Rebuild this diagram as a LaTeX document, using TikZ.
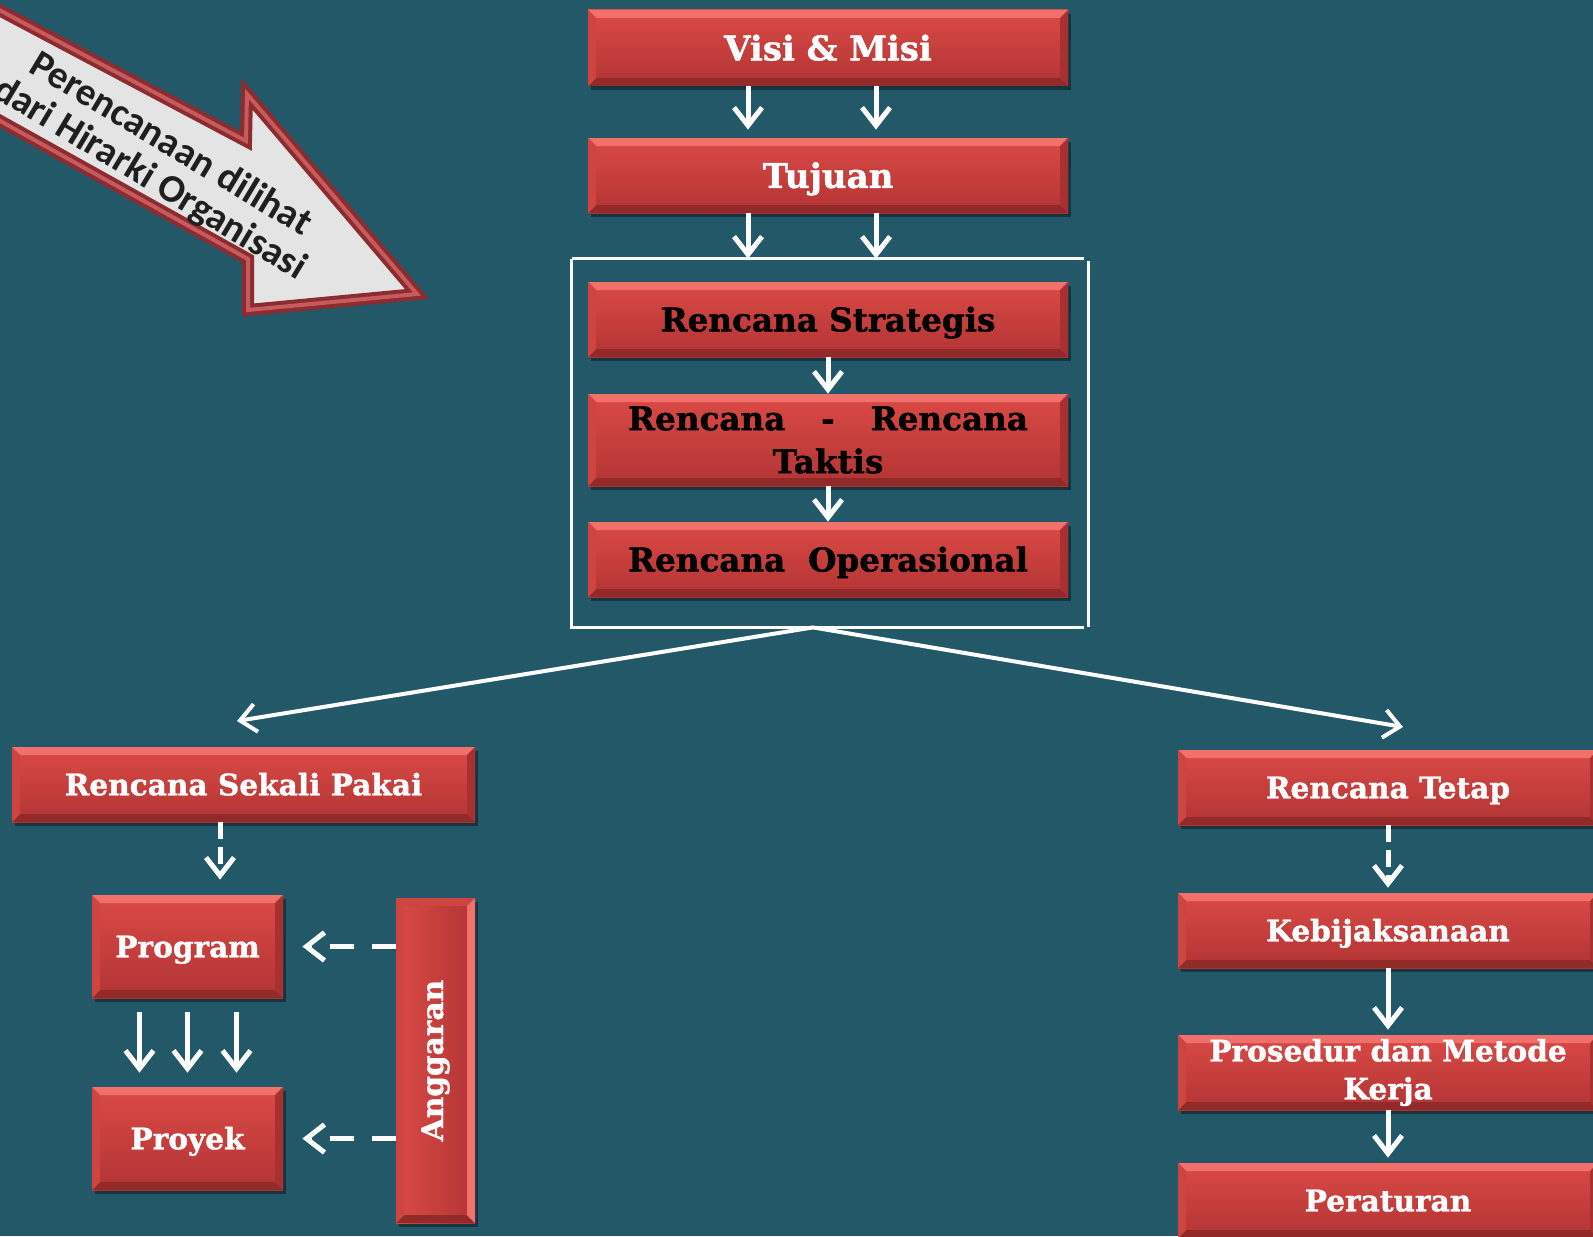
\documentclass[tikz,border=0pt]{standalone}
\usepackage{fontspec}
\usepackage{graphicx}
\usetikzlibrary{arrows.meta,shadows,calc}
\newfontfamily\boxfont{DejaVu Serif}[BoldFeatures={FakeBold=1.2}]
\newfontfamily\arrowfont{Carlito}
\definecolor{bgteal}{RGB}{34,88,104}
\definecolor{redtop}{RGB}{218,74,70}
\definecolor{redbot}{RGB}{178,52,52}
\definecolor{bevlight}{RGB}{242,112,106}
\definecolor{bevdark}{RGB}{146,42,42}
\definecolor{bevside}{RGB}{206,68,64}
\definecolor{bevsidedark}{RGB}{168,48,48}
\definecolor{tubedark}{RGB}{140,44,48}
\definecolor{tubelight}{RGB}{198,90,92}
\definecolor{sheet}{RGB}{228,228,228}

\tikzset{
  % bevelled edge strips: top, bottom, left, right
  bev/.style n args={4}{path picture={
    \coordinate (bbnw) at (path picture bounding box.north west);
    \coordinate (bbne) at (path picture bounding box.north east);
    \coordinate (bbsw) at (path picture bounding box.south west);
    \coordinate (bbse) at (path picture bounding box.south east);
    \fill[#1] (bbnw) -- (bbne) -- ([shift={(-4pt,-4pt)}]bbne) -- ([shift={(4pt,-4pt)}]bbnw) -- cycle;
    \fill[#2] (bbsw) -- (bbse) -- ([shift={(-4pt,4pt)}]bbse) -- ([shift={(4pt,4pt)}]bbsw) -- cycle;
    \fill[#3] (bbnw) -- ([shift={(4pt,-4pt)}]bbnw) -- ([shift={(4pt,4pt)}]bbsw) -- (bbsw) -- cycle;
    \fill[#4] (bbne) -- ([shift={(-4pt,-4pt)}]bbne) -- ([shift={(-4pt,4pt)}]bbse) -- (bbse) -- cycle;
  }},
  boxshadow/.style={drop shadow={shadow xshift=1.5pt, shadow yshift=-1.8pt, opacity=0.4, fill=black}},
  redbox/.style={rectangle, inner sep=0pt, align=center, text=white,
    font=\boxfont\bfseries\fontsize{14.8}{19}\selectfont,
    top color=redtop, bottom color=redbot, boxshadow,
    bev={bevlight}{bevdark}{bevside}{bevsidedark}},
  vbox/.style={rectangle, inner sep=0pt, text=white,
    font=\boxfont\bfseries\fontsize{14.8}{19}\selectfont,
    left color=redtop, right color=redbot, boxshadow,
    bev={bevside}{bevdark}{bevside}{bevlight}},
  % one-line labels: centre the capitals in the box
  capcenter/.style={text height=#1, text depth=0pt},
  bigtext/.style={font=\boxfont\bfseries\fontsize{17}{21}\selectfont},
  darktext/.style={text=black, font=\boxfont\bfseries\fontsize{16.3}{21.5}\selectfont},
  widebox/.style={minimum width=240pt, minimum height=37.5pt},
  sidebox/.style={minimum width=210pt, minimum height=37.5pt},
  flow/.style={draw=white, line width=2.5pt, -{Straight Barb[length=9pt,width=14pt]}},
  vdash/.style={flow, dash pattern=on 8.5pt off 4pt},
  hdash/.style={flow, dash pattern=on 12pt off 9pt},
  diag/.style={draw=white, line width=2pt, -{Straight Barb[length=8pt,width=14pt]}},
  frameline/.style={draw=white, line width=1.2pt},
}

\begin{document}
\begin{tikzpicture}[x=0.5pt, y=-0.5pt]
  \useasboundingbox (0,0) rectangle (1593,1236);
  \clip (0,0) rectangle (1593,1236);
  \fill[bgteal] (0,0) rectangle (1593,1236);

  % block arrow in the upper left corner
  \coordinate (s1) at (-14,3);
  \coordinate (s2) at (246,141);
  \coordinate (h1) at (247,94);
  \coordinate (tip) at (417,294);
  \coordinate (h2) at (248,310);
  \coordinate (s3) at (248,259);
  \coordinate (s4) at (-14,113);
  \draw[tubedark, fill=sheet, line width=6pt, line join=miter]
    (s1) -- (s2) -- (h1) -- (tip) -- (h2) -- (s3) -- (s4) -- cycle;
  \draw[tubelight, line width=2pt, line join=miter]
    (s1) -- (s2) -- (h1) -- (tip) -- (h2) -- (s3) -- (s4) -- cycle;
  \node[font=\arrowfont\bfseries\fontsize{19.5}{20}\selectfont, text=black!88,
        rotate=-31, align=center, inner sep=0pt] (arrowtext) at (160,162)
    {Perencanaan dilihat\\dari Hirarki Organisasi};

  % central hierarchy
  \node[redbox, widebox, bigtext, capcenter=12.4pt, minimum height=38pt] (visi) at (828,48) {Visi \& Misi};
  \node[redbox, widebox, bigtext, capcenter=12.4pt] (tujuan) at (828,175.5) {Tujuan};
  \node[minimum width=258pt, minimum height=184pt, inner sep=0pt] (grp) at (830,443) {};
  \node[redbox, widebox, darktext, capcenter=11.9pt] (strat) at (828,319.5) {Rencana Strategis};
  \node[redbox, widebox, darktext, minimum height=46pt] (taktis) at (828,440)
    {\makebox[200pt][s]{Rencana\hfill-\hfill Rencana}\\Taktis};
  \node[redbox, widebox, darktext, capcenter=11.9pt] (oper) at (828,559.5) {Rencana\hspace{0.7em}Operasional};

  \draw[frameline] (grp.north west) -- ([xshift=-2pt]grp.north east);
  \draw[frameline] (grp.north west) -- (grp.south west) -- ([xshift=-2pt]grp.south east);
  \draw[frameline] ([yshift=-1pt]grp.north east) -- (grp.south east);

  % left branch
  \node[redbox, capcenter=10.8pt, minimum width=231.5pt, minimum height=37.5pt] (sekali) at (243.5,784.5) {Rencana Sekali Pakai};
  \node[redbox, capcenter=10.8pt, minimum width=95.5pt, minimum height=51.5pt] (program) at (187.5,946.5) {Program};
  \node[redbox, capcenter=10.8pt, minimum width=95.5pt, minimum height=51.5pt] (proyek) at (187.5,1138.5) {Proyek};
  \node[vbox, minimum width=39.5pt, minimum height=162.5pt] (anggaran) at (435.5,1060.5) {\rotatebox{90}{Anggaran}};

  % right branch
  \node[redbox, sidebox, capcenter=10.8pt] (tetap) at (1388,787.5) {Rencana Tetap};
  \node[redbox, sidebox, capcenter=10.8pt] (keb) at (1388,930.5) {Kebijaksanaan};
  \node[redbox, sidebox] (pros) at (1388,1072.5) {Prosedur dan Metode\\Kerja};
  \node[redbox, sidebox, capcenter=10.8pt] (perat) at (1388,1200.5) {Peraturan};

  % connectors
  \draw[flow, shorten >=4pt] ([xshift=-40pt]visi.south) -- ([xshift=-40pt]tujuan.north);
  \draw[flow, shorten >=4pt] ([xshift=24pt]visi.south) -- ([xshift=24pt]tujuan.north);
  \draw[flow] ([xshift=-40pt]tujuan.south) -- ([xshift=-40pt]tujuan.south |- grp.north);
  \draw[flow] ([xshift=24pt]tujuan.south) -- ([xshift=24pt]tujuan.south |- grp.north);
  \draw[flow] (strat) -- (taktis);
  \draw[flow] (taktis) -- (oper);

  \coordinate (apex) at ([xshift=-8.5pt]grp.south);
  \coordinate (lefttip) at (237,721);
  \coordinate (righttip) at (1403,727);
  \draw[diag] (apex) -- (lefttip);
  \draw[diag] (apex) -- (righttip);

  \draw[vdash, shorten >=7.5pt] ([xshift=-11.75pt]sekali.south) -- ([xshift=-11.75pt]sekali.south |- program.north);
  \foreach \dx in {-24,0,24.5}
    \draw[flow, shorten <=7pt, shorten >=7pt] ([xshift=\dx pt]program.south) -- ([xshift=\dx pt]proyek.north);
  \draw[hdash, shorten >=9.5pt] (anggaran.west |- program.east) -- (program.east);
  \draw[hdash, shorten >=9.5pt] (anggaran.west |- proyek.east) -- (proyek.east);

  \draw[vdash, shorten >=2.5pt] (tetap) -- (keb);
  \draw[flow, shorten >=2.5pt] (keb) -- (pros);
  \draw[flow, shorten >=2.5pt] (pros) -- (perat);
\end{tikzpicture}
\end{document}
